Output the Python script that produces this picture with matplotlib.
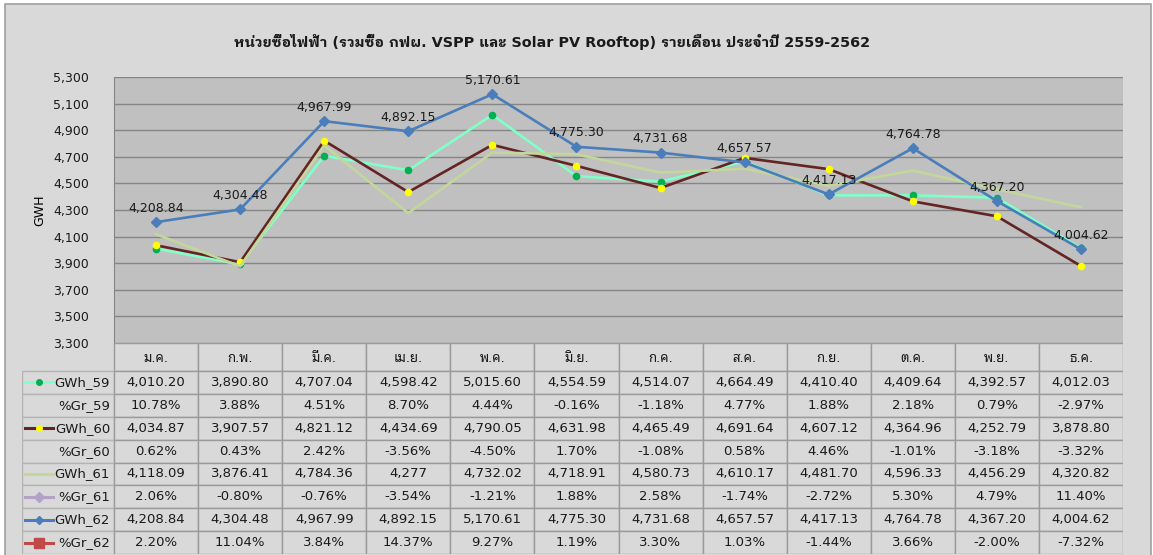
import matplotlib
matplotlib.use("Agg")
import matplotlib.pyplot as plt
from matplotlib.patches import Rectangle
from matplotlib.lines import Line2D
from matplotlib.ticker import FuncFormatter

plt.rcParams["font.family"] = ["DejaVu Sans", "Noto Sans Thai Looped"]

title = "หน่วยซื้อไฟฟ้า (รวมซื้อ กฟผ. VSPP และ Solar PV Rooftop) รายเดือน ประจำปี 2559-2562"
months = ["ม.ค.", "ก.พ.", "มี.ค.", "เม.ย.", "พ.ค.", "มิ.ย.",
          "ก.ค.", "ส.ค.", "ก.ย.", "ต.ค.", "พ.ย.", "ธ.ค."]

gwh_59 = [4010.20, 3890.80, 4707.04, 4598.42, 5015.60, 4554.59,
          4514.07, 4664.49, 4410.40, 4409.64, 4392.57, 4012.03]
gr_59 = [10.78, 3.88, 4.51, 8.70, 4.44, -0.16, -1.18, 4.77, 1.88, 2.18, 0.79, -2.97]
gwh_60 = [4034.87, 3907.57, 4821.12, 4434.69, 4790.05, 4631.98,
          4465.49, 4691.64, 4607.12, 4364.96, 4252.79, 3878.80]
gr_60 = [0.62, 0.43, 2.42, -3.56, -4.50, 1.70, -1.08, 0.58, 4.46, -1.01, -3.18, -3.32]
gwh_61 = [4118.09, 3876.41, 4784.36, 4277, 4732.02, 4718.91,
          4580.73, 4610.17, 4481.70, 4596.33, 4456.29, 4320.82]
gr_61 = [2.06, -0.80, -0.76, -3.54, -1.21, 1.88, 2.58, -1.74, -2.72, 5.30, 4.79, 11.40]
gwh_62 = [4208.84, 4304.48, 4967.99, 4892.15, 5170.61, 4775.30,
          4731.68, 4657.57, 4417.13, 4764.78, 4367.20, 4004.62]
gr_62 = [2.20, 11.04, 3.84, 14.37, 9.27, 1.19, 3.30, 1.03, -1.44, 3.66, -2.00, -7.32]

y_ticks = list(range(3300, 5301, 200))

W, H = 1153, 555
fig = plt.figure(figsize=(W / 100, H / 100), dpi=100, facecolor="white")

# chart frame
fig.patches.append(Rectangle((5 / W, -0.1), (1151 - 5) / W, 1 - 4 / H + 0.1, transform=fig.transFigure,
                             facecolor="#d9d9d9", edgecolor="#a0a0a0", lw=1.2, zorder=-5))

px_left, px_right, px_top, px_bot = 114, 1123, 77, 343
ax = fig.add_axes([px_left / W, 1 - px_bot / H, (px_right - px_left) / W, (px_bot - px_top) / H])
ax.set_facecolor("#c0c0c0")

x = list(range(len(months)))
ax.plot(x, gwh_59, color="#80ffc8", lw=1.9, marker="o", ms=4.5,
        mfc="#00b050", mec="#00b050", zorder=3)
ax.plot(x, gwh_60, color="#632423", lw=1.9, marker="o", ms=4.5,
        mfc="#ffff00", mec="#ffff00", zorder=4)
ax.plot(x, gwh_61, color="#c3d69b", lw=1.9, zorder=5)
ax.plot(x, gwh_62, color="#4a7ebb", lw=1.9, marker="D", ms=5,
        mfc="#4a7ebb", mec="#4a7ebb", zorder=6)
for xi, v in zip(x, gwh_62):
    ax.annotate(f"{v:,.2f}", (xi, v), xytext=(0, 10), textcoords="offset points",
                ha="center", va="center", fontsize=9, color="#1a1a1a", zorder=7)

ax.set_xlim(-0.5, len(months) - 0.5)
ax.set_ylim(y_ticks[0], y_ticks[-1])
ax.set_yticks(y_ticks)
ax.yaxis.set_major_formatter(FuncFormatter(lambda v, p: f"{v:,.0f}"))
ax.tick_params(axis="y", length=0, labelsize=9, pad=18, colors="#1a1a1a")
ax.set_xticks([])
ax.grid(axis="y", color="#868686", lw=1)
ax.set_axisbelow(True)
for s in ["top", "right", "bottom"]:
    ax.spines[s].set_visible(False)
ax.spines["left"].set_color("#868686")

fig.text(40 / W, 1 - 210 / H, "GWH", rotation=90, ha="center", va="center", fontsize=9)
fig.text(552 / W, 1 - 42 / H, title, ha="center", va="center", fontsize=10.4,
         fontweight="bold", color="#1a1a1a", family=["DejaVu Sans", "IBM Plex Sans Thai Looped"])

# data table
tab_left, tab_bot = 22, 554
tab = fig.add_axes([tab_left / W, 1 - tab_bot / H, (px_right - tab_left) / W, (tab_bot - px_bot) / H])
tab.set_xlim(tab_left, px_right)
tab.set_ylim(tab_bot, px_bot)
tab.axis("off")

col_w = (px_right - px_left) / len(months)
head_h = 28
row_h = (tab_bot - px_bot - head_h) / 8
edge = "#9a9a9a"


def fmt_gwh(v):
    return f"{v:,}" if isinstance(v, int) else f"{v:,.2f}"


def fmt_pct(v):
    return f"{v:.2f}%"


rows = [
    ("GWh_59", [fmt_gwh(v) for v in gwh_59], dict(color="#80ffc8", marker="o", mfc="#00b050", mec="#00b050", ms=4)),
    ("%Gr_59", [fmt_pct(v) for v in gr_59], None),
    ("GWh_60", [fmt_gwh(v) for v in gwh_60], dict(color="#632423", marker="o", mfc="#ffff00", mec="#ffff00", ms=4)),
    ("%Gr_60", [fmt_pct(v) for v in gr_60], None),
    ("GWh_61", [fmt_gwh(v) for v in gwh_61], dict(color="#c3d69b")),
    ("%Gr_61", [fmt_pct(v) for v in gr_61], dict(color="#b3a2c7", marker="D", mfc="#b3a2c7", mec="#b3a2c7", ms=5)),
    ("GWh_62", [fmt_gwh(v) for v in gwh_62], dict(color="#4a7ebb", marker="D", mfc="#4a7ebb", mec="#4a7ebb", ms=4.5)),
    ("%Gr_62", [fmt_pct(v) for v in gr_62], dict(color="#be4b48", marker="s", mfc="#be4b48", mec="#be4b48", ms=7)),
]

for j, m in enumerate(months):
    x0 = px_left + j * col_w
    tab.add_patch(Rectangle((x0, px_bot), col_w, head_h, fc="#d9d9d9", ec=edge, lw=1))
    tab.text(x0 + col_w / 2, px_bot + head_h / 2 + 1, m, ha="center", va="center", fontsize=9.5,
             color="#1a1a1a")

for i, (name, cells, key) in enumerate(rows):
    y0 = px_bot + head_h + i * row_h
    yc = y0 + row_h / 2
    tab.add_patch(Rectangle((tab_left, y0), px_left - tab_left, row_h, fc="#d9d9d9", ec="#b4b4b4", lw=1))
    tab.text(px_left - 4, yc, name, ha="right", va="center", fontsize=9.5, color="#1a1a1a")
    if key:
        tab.add_line(Line2D([tab_left + 3, tab_left + 17, tab_left + 31], [yc, yc, yc],
                            lw=2.2, markevery=[1], **key))
    for j, c in enumerate(cells):
        x0 = px_left + j * col_w
        tab.add_patch(Rectangle((x0, y0), col_w, row_h, fc="#d9d9d9", ec=edge, lw=1))
        tab.text(x0 + col_w / 2, yc, c, ha="center", va="center", fontsize=9.5, color="#1a1a1a")

fig.savefig("out.png", dpi=100, facecolor=fig.get_facecolor())
